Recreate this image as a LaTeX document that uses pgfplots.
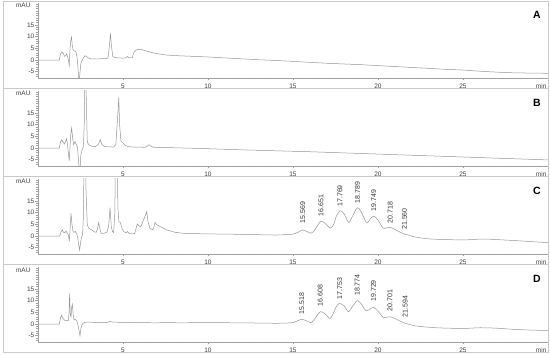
\documentclass[border=0pt]{standalone}
\usepackage{fontspec}
\setmainfont{Liberation Sans}
\usepackage{pgfplots}
\pgfplotsset{compat=1.18}
\definecolor{trace}{HTML}{959595}
\definecolor{axisc}{HTML}{A0A0A0}
\definecolor{framec}{HTML}{CACACA}
\pgfplotsset{chrom/.style={
  scale only axis, width=510pt, height=75pt,
  xmin=0, xmax=30, ymin=-7.7, ymax=24.4,
  axis x line=bottom, axis y line=left,
  axis line style={axisc, line width=0.5pt, -},
  xtick={5,10,15,20,25}, minor xtick={1,2,...,29},
  ytick={-5,0,5,10,15}, minor ytick={-7,-6,...,24},
  tick align=outside,
  major tick length=2.5pt, minor tick length=1.5pt,
  every tick/.style={axisc, line width=0.4pt},
  tick label style={font=\fontsize{6.5}{7}\selectfont, text=black!75},
  yticklabel style={inner sep=1pt},
  /pgf/number format/assume math mode=true,
  clip=true, clip mode=individual,
}}
\newcommand{\panelextras}[1]{%
  \node[anchor=east, font=\fontsize{6.5}{7}\selectfont, text=black!75] at (axis cs:0,23.2) [xshift=-4pt] {mAU};
  \node[font=\fontsize{6.5}{7}\selectfont, text=black!75, anchor=north] at (axis cs:29.6,-7.7) [yshift=-2.2pt] {min};
  \node[font=\fontsize{10.5}{12}\selectfont\bfseries] at (axis cs:29.35,19.2) {#1};
}
\newcommand{\plab}[3]{\node[rotate=90, anchor=west, font=\fontsize{7}{8}\selectfont, text=black!80, inner sep=0pt] at (axis cs:#1,#2) {#3};}
\begin{document}
\begin{tikzpicture}
\useasboundingbox (0,0) rectangle (550pt,355pt);
\draw[framec, line width=0.6pt] (3pt,3pt) rectangle (548pt,354pt);
\draw[framec, line width=0.6pt] (3pt,267pt) -- (548pt,267pt);
\draw[framec, line width=0.6pt] (3pt,179pt) -- (548pt,179pt);
\draw[framec, line width=0.6pt] (3pt,91pt) -- (548pt,91pt);

% ---------- A ----------
\begin{axis}[chrom, at={(38pt,352pt)}, anchor=north west]
\addplot[trace, line width=0.5pt] coordinates {
(0,0) (1.25,0) (1.32,2.5) (1.40,3.5) (1.48,3.0) (1.56,1.6) (1.62,1.8) (1.69,2.6) (1.74,1.5) (1.80,-0.5) (1.84,-2.3) (1.87,3) (1.92,8) (1.97,9.8) (2.02,6) (2.07,4.2) (2.15,3.8) (2.24,3.4) (2.30,1) (2.36,-4) (2.41,-12) (2.46,-6) (2.52,-1.5) (2.58,-0.5) (2.66,0.8) (2.76,1.8) (2.84,1.6) (2.95,0.9) (3.10,0.5) (3.5,0.5) (4.0,0.6) (4.12,0.9) (4.20,6) (4.26,11.4) (4.32,6) (4.40,1.5) (4.55,1.0) (5.0,0.8) (5.18,0.9) (5.27,1.5) (5.36,0.9) (5.55,1.0) (5.62,3.0) (5.72,4.0) (5.90,4.6) (6.1,4.4) (6.4,3.8) (6.8,3.0) (7.2,2.5) (7.6,2.1) (8.0,1.9) (9.0,1.6) (10,1.3) (11,0.9) (12,0.5) (13,0.1) (14,-0.2) (15,-0.6) (16,-1.0) (17,-1.4) (18,-1.7) (19,-2.0) (20,-2.4) (21,-2.8) (22,-3.2) (23,-3.6) (24,-4.0) (25,-4.3) (26,-4.8) (27,-5.2) (28,-5.5) (29,-5.6) (30,-5.7)
};
\panelextras{A}
\end{axis}

% ---------- B ----------
\begin{axis}[chrom, at={(38pt,264pt)}, anchor=north west]
\addplot[trace, line width=0.5pt] coordinates {
(0,0) (1.25,0) (1.32,2.5) (1.39,3.6) (1.47,2.5) (1.56,1.7) (1.63,3) (1.69,4.0) (1.74,1) (1.80,-3) (1.84,-5.4) (1.88,0) (1.93,6) (1.98,8.5) (2.04,4) (2.10,1.4) (2.18,2.8) (2.25,1.5) (2.32,0.5) (2.38,-5) (2.45,-12) (2.52,-3) (2.60,-0.5) (2.67,0.5) (2.72,10) (2.76,40) (2.80,60) (2.84,20) (2.90,2.5) (3.00,1.3) (3.15,0.8) (3.35,0.5) (3.55,1.5) (3.66,3.6) (3.76,1.5) (3.90,0.6) (4.2,0.5) (4.45,0.4) (4.58,1.5) (4.70,15) (4.75,21.6) (4.80,10) (4.88,3) (5.0,2.2) (5.10,1.3) (5.3,0.6) (5.6,0.4) (6.3,0.3) (6.45,0.9) (6.53,1.4) (6.65,0.7) (6.8,0.3) (8,0.1) (10,-0.3) (12,-0.8) (14,-1.2) (16,-1.6) (18,-2.1) (20,-2.6) (22,-3.1) (24,-3.6) (26,-4.1) (28,-4.6) (30,-5.1)
};
\panelextras{B}
\end{axis}

% ---------- C ----------
\begin{axis}[chrom, at={(38pt,176pt)}, anchor=north west]
\addplot[trace, line width=0.5pt] coordinates {
(0,0) (1.28,0) (1.36,1.8) (1.43,2.6) (1.50,1.6) (1.58,1.4) (1.65,2.1) (1.72,1.2) (1.79,0.5) (1.84,-2.4) (1.88,2) (1.94,9.7) (2.00,5) (2.06,1.9) (2.12,1.6) (2.20,1.9) (2.28,0.8) (2.34,-1) (2.40,-4) (2.45,-6) (2.50,-3) (2.56,-0.5) (2.62,0.5) (2.67,8) (2.72,40) (2.76,60) (2.82,20) (2.90,4.7) (3.00,3.3) (3.16,2.6) (3.30,1.8) (3.42,1.6) (3.50,3) (3.57,5.8) (3.64,3) (3.72,1.1) (3.90,1.2) (4.05,1.6) (4.15,4) (4.24,12.1) (4.31,4) (4.38,1.9) (4.45,1.5) (4.52,10) (4.58,50) (4.64,40) (4.70,12) (4.76,6.1) (4.85,5.7) (4.95,3) (5.05,1.9) (5.17,1.4) (5.27,1.9) (5.36,1.0) (5.5,0.9) (5.68,1.0) (5.76,3) (5.84,5.1) (5.95,4.3) (6.05,4.0) (6.20,6.8) (6.30,8.5) (6.39,10.4) (6.48,6) (6.58,3.3) (6.75,2.6) (6.82,4) (6.88,5.8) (7.0,4.8) (7.2,4.0) (7.57,2.6) (8.06,1.6) (8.6,1.1) (10,0.9) (12,0.7) (14,0.4)
};
\addplot[trace, line width=0.5pt, smooth] coordinates {
(14,0.4) (14.6,0.6) (15.0,0.8) (15.3,1.6) (15.55,2.6) (15.8,2.0) (16.05,1.2) (16.2,1.8) (16.4,4.0) (16.65,6.4) (16.9,5.3) (17.2,3.4) (17.4,5.0) (17.55,8.5) (17.77,10.8) (18.0,9.5) (18.28,5.8) (18.5,8.5) (18.78,12.1) (19.0,10.5) (19.32,5.8) (19.55,7.3) (19.76,8.5) (20.0,6.8) (20.3,3.4) (20.5,3.5) (20.72,3.7) (20.95,3.0) (21.2,2.0) (21.56,0.8) (21.8,0.4) (22.1,-0.3) (22.6,-0.9) (23.1,-1.3) (24,-1.5) (25,-1.7) (26.2,-1.3) (27.4,-1.7) (28.4,-2.1) (29.2,-2.5) (30,-2.8)
};
\plab{15.569}{5.3}{15.569}
\plab{16.651}{8.3}{16.651}
\plab{17.769}{12.5}{17.769}
\plab{18.789}{13.9}{18.789}
\plab{19.749}{10.4}{19.749}
\plab{20.718}{5.4}{20.718}
\plab{21.560}{2.6}{21.560}
\panelextras{C}
\end{axis}

% ---------- D ----------
\begin{axis}[chrom, at={(38pt,88pt)}, anchor=north west]
\addplot[trace, line width=0.5pt] coordinates {
(0,0) (1.25,0) (1.32,2.5) (1.39,3.8) (1.46,2.5) (1.55,1.7) (1.66,1.4) (1.78,1.4) (1.83,5) (1.86,13.1) (1.90,4) (1.94,3) (1.98,7) (2.02,8.4) (2.07,4) (2.12,1.7) (2.20,2.0) (2.28,1.5) (2.35,-0.5) (2.42,-3) (2.47,-5.1) (2.52,-2) (2.58,-0.4) (2.68,0.5) (2.85,0.8) (3.5,0.7) (4.1,0.7) (4.24,1.1) (4.4,0.8) (5,0.7) (7,0.5) (7.8,0.7) (8.2,0.5) (10,0.6) (12,0.5) (14,0.3)
};
\addplot[trace, line width=0.5pt, smooth] coordinates {
(14,0.3) (14.6,0.4) (15.0,0.6) (15.25,1.3) (15.5,2.0) (15.75,1.5) (16.04,0.6) (16.2,1.5) (16.4,3.5) (16.62,5.3) (16.9,4.3) (17.18,2.4) (17.4,5) (17.55,7.5) (17.73,8.8) (18.0,7.8) (18.26,5.3) (18.5,7.5) (18.77,10) (19.0,8.7) (19.3,5.7) (19.55,6.5) (19.75,7.1) (20.0,5.5) (20.3,2.8) (20.5,2.9) (20.7,3.1) (20.95,2.5) (21.2,1.6) (21.6,0.3) (21.9,-0.3) (22.3,-0.9) (23.4,-1.6) (25,-1.9) (26,-1.6) (27,-1.8) (28,-2.3) (29,-2.6) (30,-2.8)
};
\plab{15.518}{4.1}{15.518}
\plab{16.608}{7.4}{16.608}
\plab{17.753}{10.5}{17.753}
\plab{18.774}{12.0}{18.774}
\plab{19.729}{9.5}{19.729}
\plab{20.701}{5.3}{20.701}
\plab{21.594}{2.8}{21.594}
\panelextras{D}
\end{axis}
\end{tikzpicture}
\end{document}
